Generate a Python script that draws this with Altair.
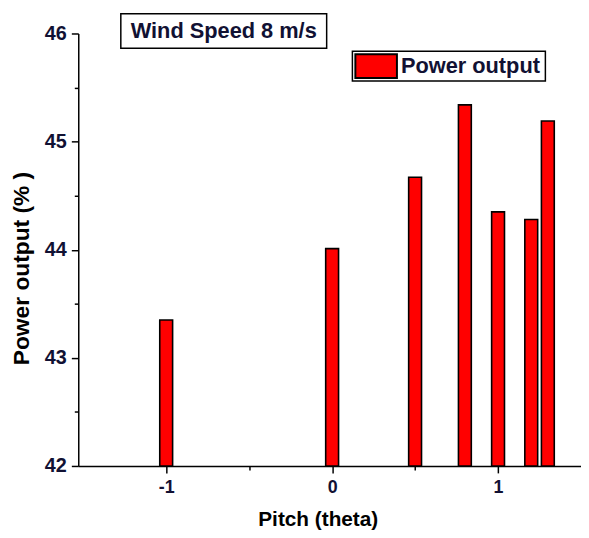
import altair as alt
import pandas as pd

pitch = [-1, 0, 0.5, 0.8, 1.0, 1.2, 1.3]
power = [43.35, 44.01, 44.67, 45.34, 44.35, 44.28, 45.19]
series_name = "Power output"
x_ticks = [-1, -0.5, 0, 0.5, 1]
y_ticks = [42, 42.5, 43, 43.5, 44, 44.5, 45, 45.5, 46]
box_title = "Wind Speed 8 m/s"

FONT = "Liberation Sans, Arial, sans-serif"
W, H = 508, 437

df = pd.DataFrame({"pitch": pitch, "power": power, "series": [series_name] * len(pitch)})

minor_size = {"condition": {"test": "datum.value % 1 !== 0", "value": 4}, "value": 7}

bars = alt.Chart(df).mark_bar(size=13, stroke="black", strokeWidth=1.6).encode(
    x=alt.X(
        "pitch:Q",
        scale=alt.Scale(domain=[-1.5, 1.47], nice=False, zero=False),
        axis=alt.Axis(
            values=x_ticks,
            title="Pitch (theta)",
            labelExpr="datum.value % 1 === 0 ? toString(datum.value) : ''",
            tickSize=minor_size,
            labelPadding=6,
            labelFontSize=18,
            titleX=242,
            titleY=54,
            titleBaseline="middle",
            titleFontSize=21,
        ),
    ),
    y=alt.Y(
        "power:Q",
        scale=alt.Scale(domain=[42, 46], nice=False, zero=False),
        axis=alt.Axis(
            values=y_ticks,
            title="Power output (% )",
            labelExpr="datum.value % 1 === 0 ? toString(datum.value) : ''",
            tickSize=minor_size,
            labelPadding=5,
            labelFontSize=20,
            titleX=-57,
            titleY=237,
            titleBaseline="middle",
            titleAngle=270,
            titleFontSize=23,
        ),
    ),
    y2=alt.datum(42),
    color=alt.Color("series:N", scale=alt.Scale(range=["#ff0000"]), legend=None),
)

tdf = pd.DataFrame({"label": [box_title]})
title_box = alt.Chart(tdf).mark_rect(fill="white", stroke="black", strokeWidth=1.5).encode(
    x=alt.value(43), x2=alt.value(251), y=alt.value(-20), y2=alt.value(15)
)
title_text = alt.Chart(tdf).mark_text(
    font=FONT, fontSize=22, fontWeight="bold", color="#111133", align="center", baseline="middle"
).encode(text="label:N", x=alt.value(147), y=alt.value(-2))

ldf = pd.DataFrame({"series": [series_name]})
legend_box = alt.Chart(ldf).mark_rect(fill="white", stroke="black", strokeWidth=1.5).encode(
    x=alt.value(277), x2=alt.value(472), y=alt.value(18), y2=alt.value(48)
)
legend_swatch = alt.Chart(ldf).mark_rect(stroke="black", strokeWidth=2).encode(
    x=alt.value(280), x2=alt.value(322), y=alt.value(21), y2=alt.value(45),
    color=alt.Color("series:N", scale=alt.Scale(range=["#ff0000"]), legend=None),
)
legend_text = alt.Chart(ldf).mark_text(
    font=FONT, fontSize=22, fontWeight="bold", color="#111133", align="left", baseline="middle"
).encode(text="series:N", x=alt.value(326), y=alt.value(33))

chart = alt.layer(bars, title_box, title_text, legend_box, legend_swatch, legend_text).properties(
    width=W,
    height=H,
    autosize=alt.AutoSizeParams(type="none"),
    padding={"left": 71, "top": 23, "right": 0, "bottom": 66},
).configure_view(stroke="transparent").configure_axis(
    grid=False,
    domainColor="black",
    domainWidth=1.5,
    tickColor="black",
    tickWidth=1.5,
    labelFont=FONT,
    labelFontWeight="bold",
    labelColor="#111133",
    titleFont=FONT,
    titleFontWeight="bold",
    titleColor="black",
)

chart.save("out.html", embed_options={"renderer": "svg", "actions": False})
